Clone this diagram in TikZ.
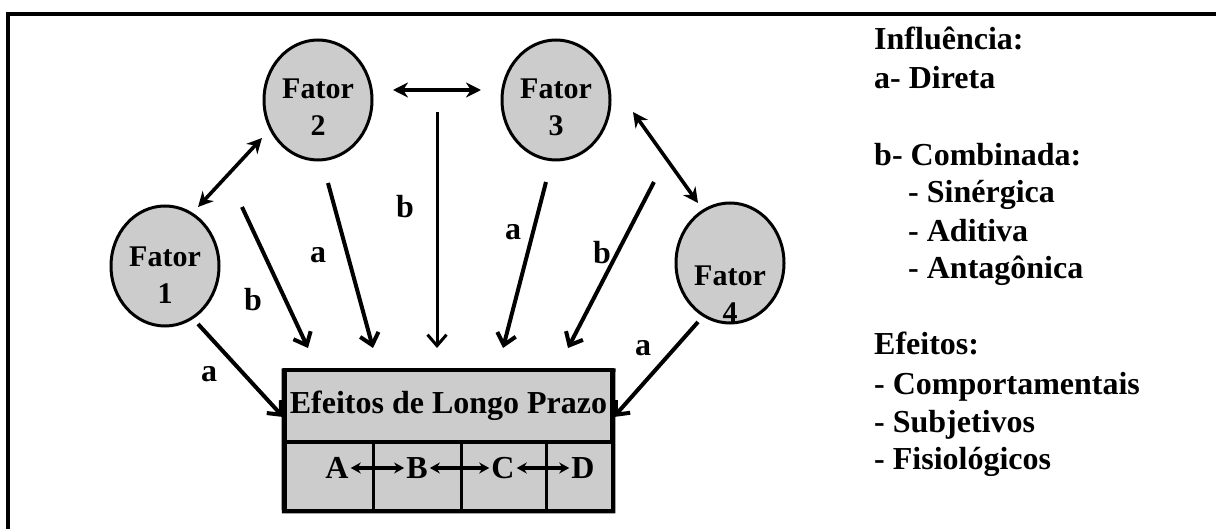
\documentclass[tikz,border=0pt]{standalone}
\usepackage{fontspec}
\setmainfont{Liberation Serif}
\usetikzlibrary{arrows.meta,shapes.geometric}

\tikzset{
  fator/.style={ellipse, draw, line width=3pt, fill=black!20,
    minimum width=108pt, minimum height=120pt, inner sep=0pt},
  ftxt/.style={font=\bfseries\fontsize{30}{37}\selectfont, align=center, inner sep=0pt},
  rot/.style={font=\bfseries\fontsize{32}{32}\selectfont, inner sep=2pt},
  leg/.style={font=\bfseries\fontsize{32}{32}\selectfont, anchor=base west, inner sep=0pt},
  cell/.style={draw, line width=3pt, fill=black!20, minimum height=68pt, inner sep=0pt},
  arr/.style={line width=4pt, -{Straight Barb[length=11pt,width=19pt]}},
  dbl/.style={line width=3.6pt, {Stealth[length=15pt,width=15pt]}-{Stealth[length=15pt,width=15pt]}},
  sdbl/.style={line width=3.4pt, {Stealth[length=10pt,width=11pt]}-{Stealth[length=10pt,width=11pt]}}
}

\begin{document}
\begin{tikzpicture}[x=1pt,y=-1pt]
  \useasboundingbox (0,0) rectangle (1216,529);
  % frame: only top and left edges
  \draw[line width=4.5pt] (1216,14) -- (8,14) -- (8,529);

  % the four factors
  \node[fator] (f1) at (165,266) {};
  \node[fator] (f2) at (318,100) {};
  \node[fator] (f3) at (556,100) {};
  \node[fator] (f4) at (730,263) {};
  \node[ftxt] (t1) at (165,275) {Fator\\1};
  \node[ftxt] (t2) at (318,107) {Fator\\2};
  \node[ftxt] (t3) at (556,107) {Fator\\3};
  \node[ftxt] (t4) at (730,294) {Fator\\4};

  % long term effects box
  \node[draw, line width=3.5pt, fill=black!20, minimum width=327pt, minimum height=72pt,
    inner sep=0pt, font=\bfseries\fontsize{32}{32}\selectfont] (ttl) at (448.5,406) {Efeitos de Longo Prazo};
  \node[cell, minimum width=88pt] (c1) at (329,476) {};
  \node[cell, minimum width=88pt] (c2) at (417,476) {};
  \node[cell, minimum width=85pt] (c3) at (503.5,476) {};
  \node[cell, minimum width=66pt] (c4) at (579,476) {};
  \draw[line width=3.5pt] (ttl.north west) -- (c1.south west) -- (c4.south east) -- (ttl.north east);

  \node[rot] (lA) at (337,468) {A};
  \node[rot] (lB) at (417,468) {B};
  \node[rot] (lC) at (503,468) {C};
  \node[rot] (lD) at (583,468) {D};
  \draw[sdbl] (lA) -- (lB);
  \draw[sdbl] (lB) -- (lC);
  \draw[sdbl] (lC) -- (lD);

  % free ends of the connectors
  \coordinate (p12a) at (198,207);
  \coordinate (p12b) at (262,138);
  \coordinate (p23a) at (393,90);
  \coordinate (p23b) at (481,90);
  \coordinate (p34a) at (633,112);
  \coordinate (p34b) at (698,203);
  \coordinate (s1) at (198,324);
  \coordinate (s2) at (242,207);
  \coordinate (s3) at (328,183);
  \coordinate (s4) at (437,112);
  \coordinate (s5) at (546,182);
  \coordinate (s6) at (654,182);
  \coordinate (s7) at (698,322);
  \coordinate (e2) at (308,348);
  \coordinate (e3) at (373,348);
  \coordinate (e4) at (437,348);
  \coordinate (e5) at (503,348);
  \coordinate (e6) at (568,348);

  \draw[dbl] (p12a) -- (p12b);
  \draw[dbl] (p23a) -- (p23b);
  \draw[dbl] (p34a) -- (p34b);

  \draw[arr] (s1) -- ([yshift=-11pt]ttl.west);
  \draw[arr] (s2) -- (e2);
  \draw[arr] (s3) -- (e3);
  \draw[arr, line width=3pt] (s4) -- (e4);
  \draw[arr] (s5) -- (e5);
  \draw[arr] (s6) -- (e6);
  \draw[arr] (s7) -- ([yshift=-11pt]ttl.east);

  % influence labels
  \node[rot] (la1) at (209,374) {a};
  \node[rot] (lb1) at (253,300) {b};
  \node[rot] (la2) at (318,255) {a};
  \node[rot] (lb2) at (405,207) {b};
  \node[rot] (la3) at (513,232) {a};
  \node[rot] (lb3) at (602,253) {b};
  \node[rot] (la4) at (643,348) {a};

  % legend
  \node[leg] (g1) at (874,50) {Influência:};
  \node[leg] (g2) at (874,89) {a- Direta};
  \node[leg] (g3) at (874,166) {b- Combinada:};
  \node[leg] (g4) at (908,203) {- Sinérgica};
  \node[leg] (g5) at (908,242) {- Aditiva};
  \node[leg] (g6) at (908,279) {- Antagônica};
  \node[leg] (g7) at (874,355) {Efeitos:};
  \node[leg] (g8) at (874,395) {- Comportamentais};
  \node[leg] (g9) at (874,432) {- Subjetivos};
  \node[leg] (g10) at (874,469) {- Fisiológicos};
\end{tikzpicture}
\end{document}
